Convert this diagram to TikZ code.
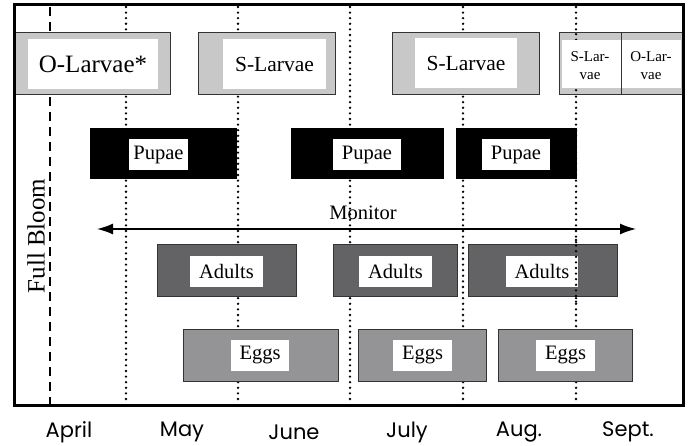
\documentclass[tikz,border=0pt]{standalone}
\usepackage{fontspec}
\setmainfont{Liberation Serif}
\newfontfamily\monthfont{Poppins}
\usetikzlibrary{arrows.meta}
\definecolor{larva}{HTML}{C8C8C8}
\definecolor{adult}{HTML}{636365}
\definecolor{egg}{HTML}{949497}
\definecolor{edgec}{HTML}{333333}
\tikzset{
  stage/.style={draw=edgec, line width=1pt, inner sep=0pt, outer sep=0pt},
  lab/.style={fill=white, inner sep=0pt, outer sep=0pt, font=\fontsize{20.5}{22}\selectfont},
  vdot/.style={line width=2.6pt, line cap=round, dash pattern=on 0pt off 5.6pt},
  vdash/.style={line width=2pt, dash pattern=on 9pt off 6pt},
  month/.style={font=\monthfont\fontsize{21}{23}\selectfont, inner sep=0pt},
  mon/.style={line width=1.5pt, {Latex[length=16pt,width=11pt]}-{Latex[length=16pt,width=11pt]}},
  small/.style={font=\fontsize{15}{18}\selectfont, align=center, inner sep=0pt}
}
\newcommand\gbox[6]{\node[#6, minimum width={(#4-#2)*1pt}, minimum height={(#5-#3)*1pt}] (#1) at ({(#2+#4)/2},{(#3+#5)/2}) {};}
\newcommand\lbox[6]{\node[lab, minimum width={(#4-#2)*1pt}, minimum height={(#5-#3)*1pt}] (#1) at ({(#2+#4)/2},{(#3+#5)/2}) {#6};}
\begin{document}
\begin{tikzpicture}[x=1pt,y=-1pt]
\useasboundingbox (0,0) rectangle (688,446);
% vertical guide lines
\coordinate (fbt) at (50,7); \coordinate (fbb) at (50,404);
\draw[vdash] (fbt) -- (fbb);
\foreach \x/\n in {126/a,238/b,350/c,463/d,576/e}{
  \coordinate (t\n) at (\x,7); \coordinate (b\n) at (\x,404);
  \draw[vdot] (t\n) -- (b\n);
}
% Larvae row
\gbox{ol}{14}{33}{170}{95}{stage,fill=larva}
\node[lab, font=\fontsize{25}{27}\selectfont, minimum width=130pt, minimum height=50pt] (oll) at (93,64) {O-Larvae*};
\gbox{sl1}{198}{33}{335}{95}{stage,fill=larva}
\node[lab, font=\fontsize{21.5}{23}\selectfont, minimum width=103pt, minimum height=50pt] (sl1l) at (274.5,64) {S-Larvae};
\gbox{sl2}{392}{33}{539}{95}{stage,fill=larva}
\node[lab, font=\fontsize{21.5}{23}\selectfont, minimum width=102pt, minimum height=50pt] (sl2l) at (466,63) {S-Larvae};
% Pupae row
\gbox{p1}{90}{129}{236}{179}{stage,draw=black,fill=black}
\lbox{p1l}{129}{139}{188}{170}{Pupae}
\gbox{p2}{291}{129}{443}{179}{stage,draw=black,fill=black}
\lbox{p2l}{333}{139}{401}{170}{Pupae}
\gbox{p3}{456}{129}{576}{179}{stage,draw=black,fill=black}
\lbox{p3l}{482}{139}{550}{170}{Pupae}
% Monitor
\coordinate (ml) at (97,229); \coordinate (mr) at (636,229);
\draw[mon] (ml) -- (mr);
\node[font=\fontsize{20.5}{22}\selectfont, inner sep=0pt] (monl) at (363,213) {Monitor};
% Adults row
\gbox{a1}{157}{245}{296}{297}{stage,fill=adult}
\lbox{a1l}{190}{256}{263}{287}{Adults}
\gbox{a2}{333}{245}{457}{297}{stage,fill=adult}
\lbox{a2l}{359}{256}{432}{287}{Adults}
\gbox{a3}{468}{245}{617}{297}{stage,fill=adult}
\lbox{a3l}{506}{256}{578}{287}{Adults}
\coordinate (ea) at (576,240); \coordinate (eb) at (576,302);
\draw[vdot] (ea) -- (eb);
% Eggs row
\gbox{e1}{183}{329}{338}{381}{stage,fill=egg}
\lbox{e1l}{231}{340}{289}{371}{Eggs}
\gbox{e2}{358}{329}{486}{381}{stage,fill=egg}
\lbox{e2l}{393}{340}{452}{371}{Eggs}
\gbox{e3}{498}{329}{632}{381}{stage,fill=egg}
\lbox{e3l}{536}{340}{595}{371}{Eggs}
% small larvae box at right
\gbox{sm}{559}{33}{682}{95}{fill=larva, inner sep=0pt}
\coordinate (sa) at (576,34.2); \coordinate (sb) at (576,94);
\draw[vdot] (sa) -- (sb);
\node[fill=white, inner sep=0pt, minimum width=119pt, minimum height=48pt] (smw) at (621.5,64) {};
\node[stage, fill=none, minimum width=123pt, minimum height=62pt] (smf) at (620.5,64) {};
\coordinate (dt) at (621,33); \coordinate (db) at (621,95);
\draw[draw=edgec, line width=1pt] (dt) -- (db);
\node[small] (sml) at (590,66) {S-Lar-\\vae};
\node[small] (oml) at (651,66) {O-Lar-\\vae};
% frame
\draw[line width=3pt] (14,5) rectangle (683,405);
% Full Bloom
\node[rotate=90, font=\fontsize{25}{27}\selectfont, inner sep=0pt] (fb) at (36,236) {Full Bloom};
% months
\node[month] (m1) at (69,432) {April};
\node[month] (m2) at (182,432) {May};
\node[month] (m3) at (294,432) {June};
\node[month] (m4) at (407,432) {July};
\node[month] (m5) at (519,432) {Aug.};
\node[month] (m6) at (628,432) {Sept.};
\end{tikzpicture}
\end{document}
